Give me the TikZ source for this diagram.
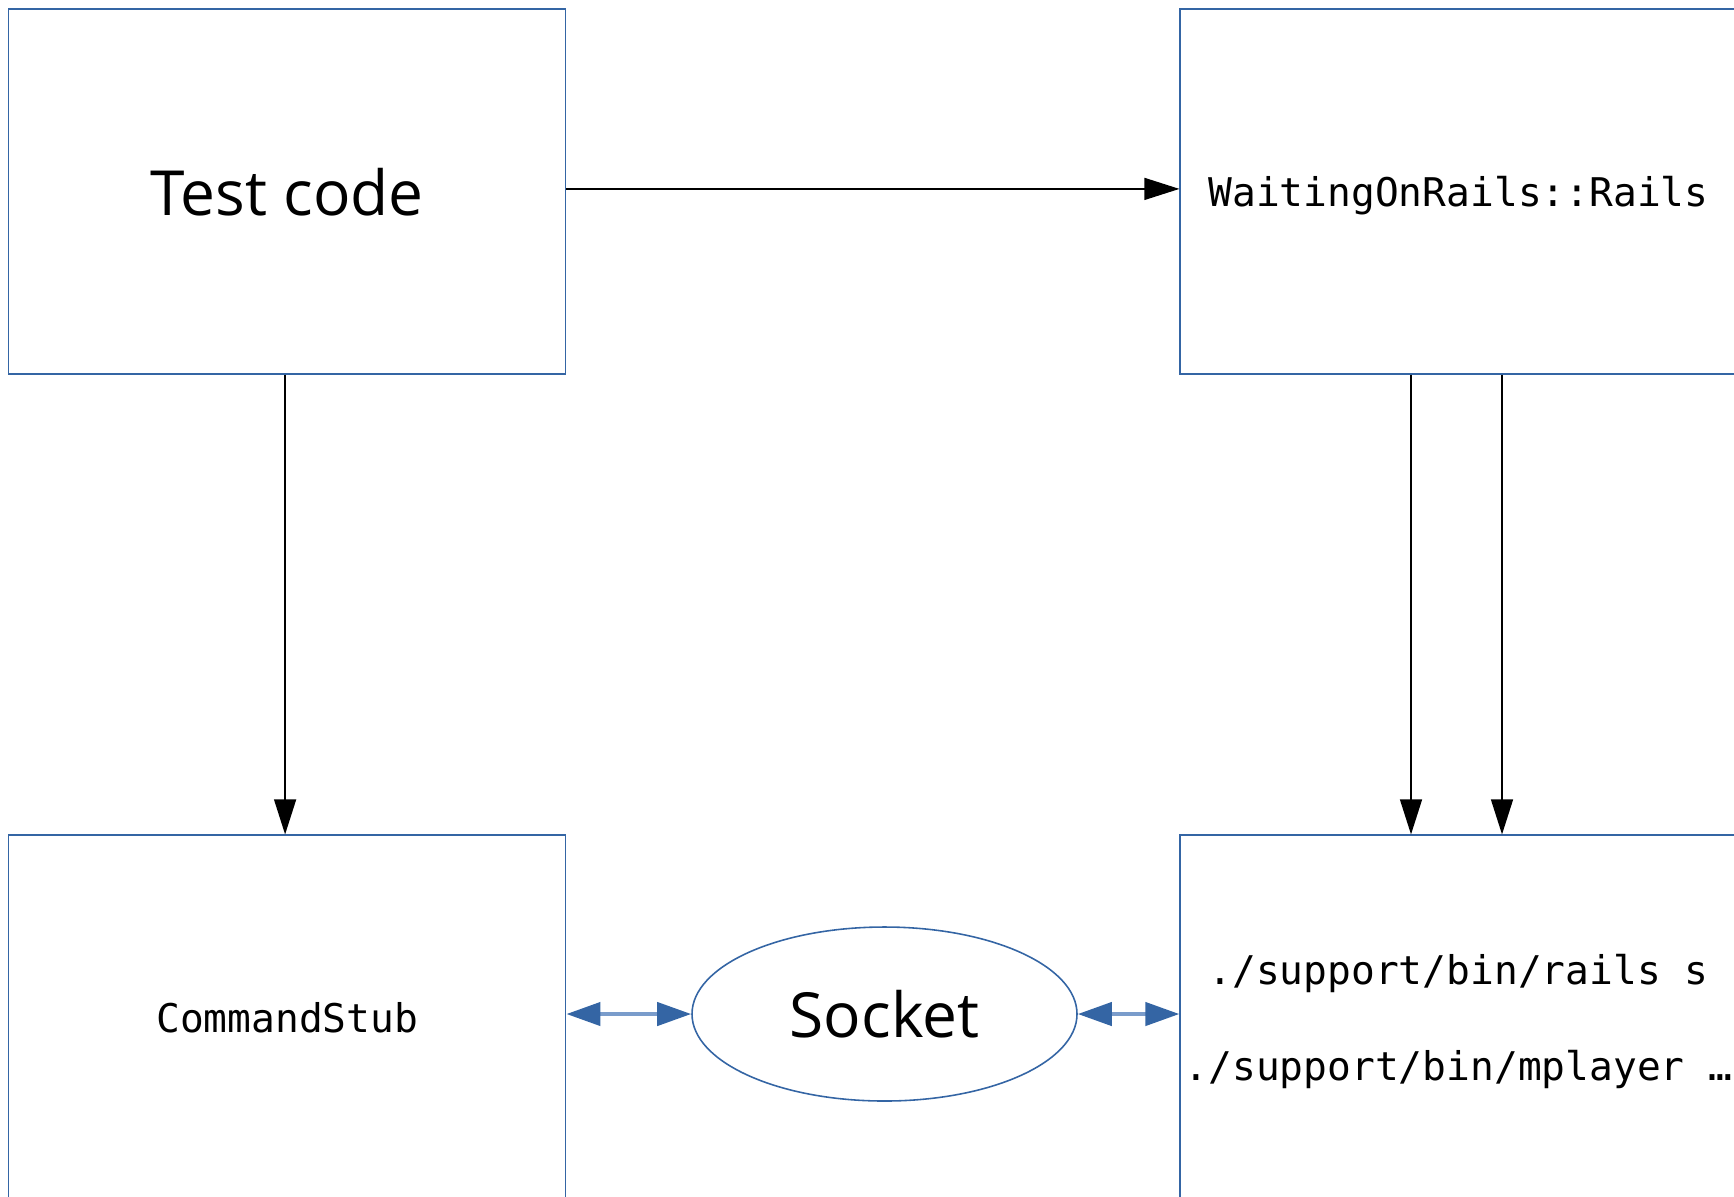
\documentclass[tikz,border=0pt]{standalone}
\usepackage{fontspec}
\setmainfont{Open Sans}
\setmonofont{DejaVu Sans Mono}
\usepackage{tikz}
\usetikzlibrary{arrows.meta,positioning,shapes.geometric}
\usepackage{xcolor}
\definecolor{lineblue}{HTML}{3465A4}
\definecolor{pipeblue}{HTML}{7A9CCB}
\tikzset{
  box/.style    = {draw=lineblue, line width=0.35pt, rectangle, inner sep=0pt,
                   minimum width=5.57cm, minimum height=3.65cm, align=center},
  big/.style    = {font=\fontsize{17.7}{21}\selectfont},
  code/.style   = {font=\fontsize{11.25}{13.5}\selectfont\ttfamily},
  flow/.style   = {-{Triangle[length=3.5mm, width=2.2mm]}, line width=0.4pt},
  pipe/.style   = {{Triangle[length=3.4mm, width=2.3mm, color=lineblue]}-%
                   {Triangle[length=3.4mm, width=2.3mm, color=lineblue]},
                   draw=pipeblue, line width=1.2pt},
}

\begin{document}
\begin{tikzpicture}[x=0.1mm, y=-0.1mm]
\useasboundingbox (0,0) rectangle (1734,1196);
\clip (0,0) rectangle (1734,1196);
% ---- boxes ----
\node[box, big, text height=14.25pt, text depth=0.4pt] (test) at (287.3,191.4)
     {Test code};
\node[box, code, text height=11pt, text depth=2.65pt] (rails) at (1458.5,191.4)
     {WaitingOnRails::Rails};
\node[box, code] (stub) at (287.3,1017.5) {CommandStub};
\node[box, code, text height=38.6pt, text depth=2.65pt] (procs) at (1458.5,1017.5)
     {./support/bin/rails s\\[13.8pt]./support/bin/mplayer …};
% ---- socket ----
\node[draw=lineblue, line width=0.45pt, ellipse, inner sep=0pt, big,
      minimum width=3.85cm, minimum height=1.74cm] (sock) at (884.5,1014) {Socket};
% ---- calls ----
\draw[flow] ([yshift=0.25mm]test.east) -- ([yshift=0.25mm]rails.west);
\draw[flow] ([xshift=-0.22mm]test.south) -- ([xshift=-0.22mm]stub.north);
\draw[flow] ([xshift=-4.75mm]rails.south) -- ([xshift=-4.75mm]procs.north);
\draw[flow] ([xshift=4.35mm]rails.south) -- ([xshift=4.35mm]procs.north);
% ---- socket links ----
\draw[pipe] (sock.west -| stub.east) -- (sock.west);
\draw[pipe] (sock.east) -- (sock.east -| procs.west);
\end{tikzpicture}
\end{document}
